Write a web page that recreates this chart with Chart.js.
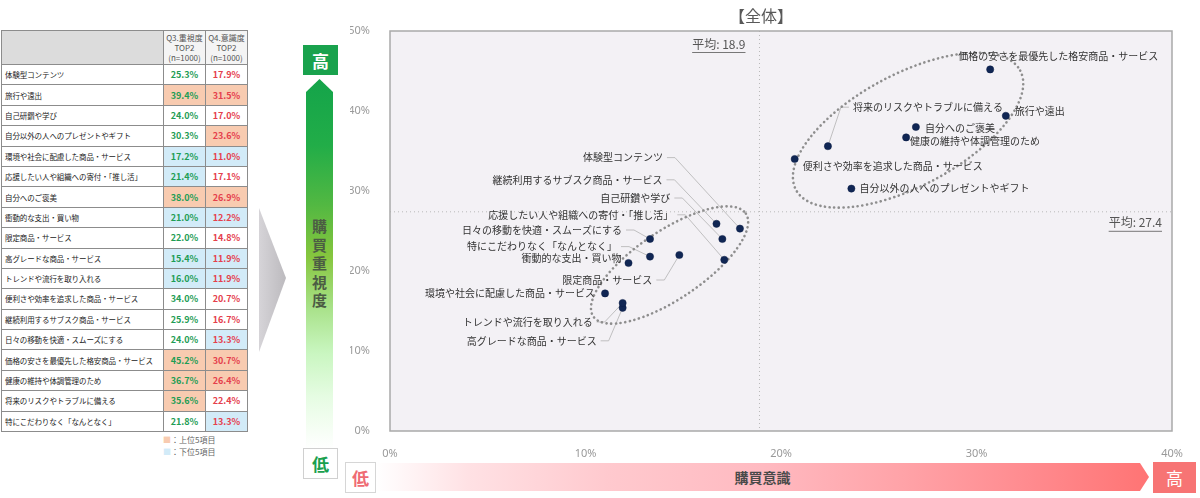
<!DOCTYPE html>
<html>
<head>
<meta charset="utf-8">
<script src="https://cdn.jsdelivr.net/npm/chart.js@4.4.1/dist/chart.umd.min.js"></script>
<style>
body{margin:0;width:1200px;height:498px;position:relative;background:#fff;overflow:hidden;font-family:"Noto Sans CJK JP","Noto Sans",sans-serif}
#tbl{position:absolute;left:1px;top:30px;width:247px;border-collapse:collapse;table-layout:fixed;border:1.5px solid #6e6e6e}
#tbl td{border:1px solid #8c8c8c;padding:0;font-size:7.5px;color:#222;white-space:nowrap;overflow:hidden}
#tbl tr{height:20.4px}
#tbl tr.head{height:34px}
#tbl tr.head td{background:#f4f4f4;color:#555;text-align:center;line-height:10px;font-size:8px}
#tbl tr.head td.first{background:#dcdcdc}
#tbl td.lbl{padding-left:3px;letter-spacing:-0.1px}
#tbl td.v{text-align:center;font-weight:bold;font-size:9px}
#tbl td.q3{color:#1f9d55}
#tbl td.q4{color:#e5404c}
#tbl td.hi{background:#f8cbb0}
#tbl td.lo{background:#d2ebf8}
#legend{position:absolute;left:163px;top:434px;font-size:8px;color:#666;line-height:12px}
#tri{position:absolute;left:259px;top:208px;width:27px;height:144px;background:linear-gradient(90deg,#d6d4d8,#bcbabe);clip-path:polygon(0 0,100% 48.6%,0 100%)}
#garrow{position:absolute;left:306px;top:79px;width:27px;height:370px;clip-path:polygon(50% 0,100% 13px,100% 100%,0 100%,0 13px);
 background:linear-gradient(180deg,#14a44a 0%,#22ad48 18%,#52b842 34%,#86c63e 48%,#a9e28a 62%,#c9f6c0 74%,#e6fce3 86%,#ffffff 100%)}
#gtxt{position:absolute;left:306px;top:217px;width:27px;text-align:center;font-size:15px;font-weight:bold;color:#4c5c44;line-height:18.6px}
.box{position:absolute;display:flex;align-items:center;justify-content:center;font-size:17px;font-weight:bold;box-sizing:border-box}
#ghi{left:303px;top:45px;width:35px;height:30px;background:#19a24d;color:#fff}
#glo{left:303px;top:448px;width:35px;height:31px;background:#fff;border:1px solid #d0d0d0;color:#1aa04e}
#plo{left:345px;top:462px;width:31px;height:31px;background:#fff;border:1px solid #d6d6d6;color:#ef6b73}
#phi{left:1153px;top:462px;width:43px;height:31px;background:#f77474;color:#fff;font-weight:normal}
#parrow{position:absolute;left:376px;top:463px;width:773px;height:28px;clip-path:polygon(0 0,calc(100% - 9px) 0,100% 50%,calc(100% - 9px) 100%,0 100%);
 background:linear-gradient(90deg,#ffffff 0%,#ffe1e4 12%,#ffc9ce 30%,#ffbac1 50%,#ffa3a8 68%,#ff8a8e 85%,#ff7474 100%)}
#ptxt{position:absolute;left:376px;top:463px;width:773px;height:28px;line-height:28px;text-align:center;font-size:14px;font-weight:bold;color:#4a4a4a}
#c{position:absolute;left:350px;top:0}
</style>
</head>
<body>
<table id="tbl"></table>
<div id="legend"><span style="color:#f8cbb0">■</span>：上位5項目<br><span style="color:#d2ebf8">■</span>：下位5項目</div>
<div id="tri"></div>
<div id="garrow"></div>
<div id="gtxt">購<br>買<br>重<br>視<br>度</div>
<div class="box" id="ghi">高</div>
<div class="box" id="glo">低</div>
<div id="parrow"></div>
<div id="ptxt">購買意識</div>
<div class="box" id="plo">低</div>
<div class="box" id="phi">高</div>
<canvas id="c" width="850" height="460"></canvas>
<script>
// items, Q3 重視度 TOP2 (y), Q4 意識度 TOP2 (x)
var items = [
  '体験型コンテンツ',
  '旅行や遠出',
  '自己研鑽や学び',
  '自分以外の人へのプレゼントやギフト',
  '環境や社会に配慮した商品・サービス',
  '応援したい人や組織への寄付・「推し活」',
  '自分へのご褒美',
  '衝動的な支出・買い物',
  '限定商品・サービス',
  '高グレードな商品・サービス',
  'トレンドや流行を取り入れる',
  '便利さや効率を追求した商品・サービス',
  '継続利用するサブスク商品・サービス',
  '日々の移動を快適・スムーズにする',
  '価格の安さを最優先した格安商品・サービス',
  '健康の維持や体調管理のため',
  '将来のリスクやトラブルに備える',
  '特にこだわりなく「なんとなく」'
];
var importance = [25.3, 39.4, 24.0, 30.3, 17.2, 21.4, 38.0, 21.0, 22.0, 15.4, 16.0, 34.0, 25.9, 24.0, 45.2, 36.7, 35.6, 21.8];
var awareness  = [17.9, 31.5, 17.0, 23.6, 11.0, 17.1, 26.9, 12.2, 14.8, 11.9, 11.9, 20.7, 16.7, 13.3, 30.7, 26.4, 22.4, 13.3];
var colHeads = ['Q3.重視度<br>TOP2<br>(n=1000)', 'Q4.意識度<br>TOP2<br>(n=1000)'];
var avgAwareness = 18.9;
var avgImportance = 27.4;

// label placement: [dx, dy, align, leader]  (px from the point)
var labelPos = [
  [-77, -71, 'right', true],
  [9, -5, 'left', false],
  [-52, -41, 'right', true],
  [8, 0, 'left', false],
  [-10, 0, 'right', false],
  [-51, -45, 'right', true],
  [9, 1, 'left', false],
  [-7, -5, 'right', false],
  [-27, 25, 'right', true],
  [-26, 33, 'right', true],
  [-30, 19, 'right', true],
  [8, 7, 'left', false],
  [-54, -44, 'right', true],
  [-28, -9, 'right', true],
  [-32, -13, 'left', false],
  [4, 4, 'left', false],
  [25, -39, 'left', true],
  [-33, -10, 'right', true]
];
// dotted group ellipses: centre in data units, radii in px, angle in degrees
var groups = [
  {cx: 26.5, cy: 37.6, rx: 127, ry: 56, rot: -28},
  {cx: 14.3, cy: 20.75, rx: 92, ry: 34, rot: -34}
];

function rankClass(arr, v) {
  var d = arr.slice().sort(function(a, b){ return b - a; });
  var a = arr.slice().sort(function(a, b){ return a - b; });
  if (v >= d[4]) return 'hi';
  if (v <= a[4]) return 'lo';
  return '';
}

// table
var html = '<tr class="head"><td class="first" style="width:161px"></td><td>' + colHeads[0] + '</td><td>' + colHeads[1] + '</td></tr>';
items.forEach(function(n, i) {
  html += '<tr><td class="lbl">' + n + '</td>' +
    '<td class="v q3 ' + rankClass(importance, importance[i]) + '">' + importance[i].toFixed(1) + '%</td>' +
    '<td class="v q4 ' + rankClass(awareness, awareness[i]) + '">' + awareness[i].toFixed(1) + '%</td></tr>';
});
document.getElementById('tbl').innerHTML = html;

var jpFont = '"Noto Sans CJK JP", "Noto Sans", sans-serif';

var plotDecor = {
  id: 'plotDecor',
  beforeDatasetsDraw: function(chart) {
    var ctx = chart.ctx, a = chart.chartArea, x = chart.scales.x, y = chart.scales.y;
    ctx.save();
    ctx.fillStyle = '#f3f1f5';
    ctx.fillRect(a.left, a.top, a.width, a.height);

    // average lines
    var ax = x.getPixelForValue(avgAwareness), ay = y.getPixelForValue(avgImportance);
    ctx.strokeStyle = '#b9b9b9';
    ctx.lineWidth = 1;
    ctx.setLineDash([1, 3]);
    ctx.beginPath();
    ctx.moveTo(ax, a.top); ctx.lineTo(ax, a.bottom);
    ctx.moveTo(a.left, ay); ctx.lineTo(a.right, ay);
    ctx.stroke();

    // average labels
    ctx.setLineDash([]);
    ctx.font = '12px ' + jpFont;
    ctx.fillStyle = '#555';
    ctx.textBaseline = 'middle';
    var t1 = '平均: ' + avgAwareness.toFixed(1);
    ctx.textAlign = 'right';
    var w1 = ctx.measureText(t1).width;
    ctx.fillText(t1, ax - 14, a.top + 13);
    var t2 = '平均: ' + avgImportance.toFixed(1);
    var w2 = ctx.measureText(t2).width;
    ctx.fillText(t2, a.right - 10, ay + 11);
    ctx.strokeStyle = '#777';
    ctx.beginPath();
    ctx.moveTo(ax - 14 - w1, a.top + 21.5); ctx.lineTo(ax - 14, a.top + 21.5);
    ctx.moveTo(a.right - 10 - w2, ay + 19.5); ctx.lineTo(a.right - 10, ay + 19.5);
    ctx.stroke();

    // leader lines
    var meta = chart.getDatasetMeta(0);
    ctx.strokeStyle = '#b3b3b3';
    ctx.lineWidth = 0.8;
    meta.data.forEach(function(pt, i) {
      var p = labelPos[i];
      if (!p[3]) return;
      var lx = pt.x + p[0], ly = pt.y + p[1];
      var s = p[2] === 'right' ? 1 : -1;
      ctx.beginPath();
      ctx.moveTo(lx + s * 4, ly);
      ctx.lineTo(lx + s * 12, ly);
      ctx.lineTo(pt.x, pt.y);
      ctx.stroke();
    });

    // group ellipses
    ctx.strokeStyle = '#8e8e8e';
    ctx.lineWidth = 2.6;
    ctx.lineCap = 'round';
    ctx.setLineDash([0.1, 4.6]);
    groups.forEach(function(g) {
      ctx.beginPath();
      ctx.ellipse(x.getPixelForValue(g.cx), y.getPixelForValue(g.cy), g.rx, g.ry, g.rot * Math.PI / 180, 0, Math.PI * 2);
      ctx.stroke();
    });
    ctx.restore();
  },
  afterDatasetsDraw: function(chart) {
    var ctx = chart.ctx, a = chart.chartArea;
    ctx.save();
    ctx.font = '10px ' + jpFont;
    ctx.fillStyle = '#333';
    ctx.textBaseline = 'middle';
    chart.getDatasetMeta(0).data.forEach(function(pt, i) {
      var p = labelPos[i];
      ctx.textAlign = p[2];
      ctx.fillText(items[i], pt.x + p[0], pt.y + p[1]);
    });
    ctx.strokeStyle = '#a9a9a9';
    ctx.lineWidth = 1.5;
    ctx.strokeRect(a.left, a.top, a.width, a.height);
    ctx.restore();
  }
};

new Chart(document.getElementById('c'), {
  type: 'scatter',
  data: {
    datasets: [{
      data: items.map(function(n, i){ return {x: awareness[i], y: importance[i]}; }),
      pointRadius: 3.6,
      pointBackgroundColor: '#102654',
      pointBorderColor: '#0b1d44',
      pointBorderWidth: 0.5
    }]
  },
  options: {
    responsive: false,
    animation: false,
    layout: {padding: {left: 0, right: 28, top: 0, bottom: 0}},
    plugins: {
      legend: {display: false},
      tooltip: {enabled: false},
      title: {
        display: true,
        text: '【全体】',
        color: '#595959',
        font: {size: 16, weight: 'normal', family: jpFont},
        padding: {top: 6, bottom: 5.8}
      }
    },
    scales: {
      x: {
        type: 'linear', min: 0, max: 40,
        grid: {display: false}, border: {display: false},
        ticks: {stepSize: 10, padding: 8, maxRotation: 0, color: '#999', font: {size: 11, family: '"Noto Sans", sans-serif'},
          callback: function(v){ return v + '%'; }},
        afterFit: function(s){ s.height = 29; }
      },
      y: {
        min: 0, max: 50,
        grid: {display: false}, border: {display: false},
        ticks: {stepSize: 10, padding: 12, color: '#999', font: {size: 11, family: '"Noto Sans", sans-serif'},
          callback: function(v){ return v + '%'; }},
        afterFit: function(s){ s.width = 40; }
      }
    }
  },
  plugins: [plotDecor]
});
</script>
</body>
</html>
